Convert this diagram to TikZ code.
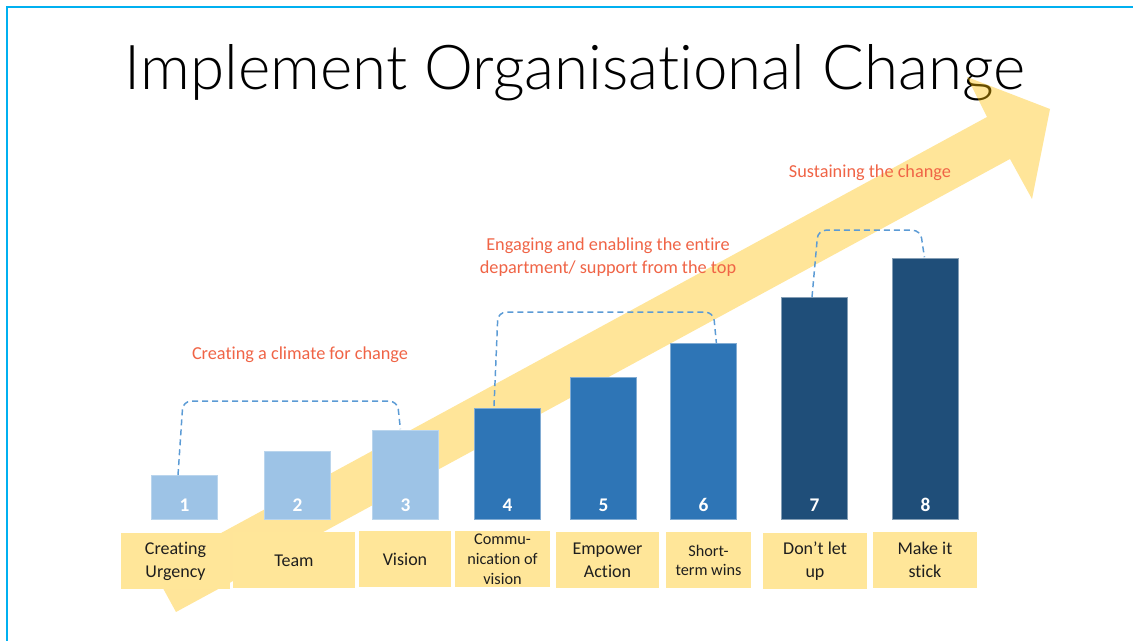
\documentclass[tikz,border=0pt]{standalone}
\usepackage{fontspec}
\setmainfont{Carlito}[Ligatures=NoCommon]
\newfontfamily\titlefont{Lato}[UprightFont={* Light}, Ligatures=NoCommon]
\usetikzlibrary{calc}
\definecolor{frameblue}{RGB}{0,176,240}
\definecolor{arrowgold}{RGB}{255,192,0}
\definecolor{lblyellow}{RGB}{255,230,153}
\definecolor{lightbar}{RGB}{157,195,230}
\definecolor{midbar}{RGB}{46,117,182}
\definecolor{darkbar}{RGB}{31,78,121}
\definecolor{redtxt}{RGB}{240,100,70}
\definecolor{dashblue}{RGB}{91,155,213}
\definecolor{txtdark}{RGB}{30,30,30}
\tikzset{
  barbox/.style={rectangle, inner sep=0pt, minimum width=49.5pt, anchor=south west, line width=0.6pt},
  lightb/.style={barbox, fill=lightbar, draw=lightbar!70!white},
  midb/.style={barbox, fill=midbar, draw=midbar!60!white},
  darkb/.style={barbox, fill=darkbar, draw=darkbar!55!white},
  numtext/.style={text=white, font=\bfseries\fontsize{14.5}{16}\selectfont, inner sep=0pt},
  lbl/.style={rectangle, fill=lblyellow, inner sep=0pt, minimum height=42pt, align=center, text=txtdark, font=\fontsize{13.5}{17.25}\selectfont},
  lblsmall/.style={lbl, font=\fontsize{12.2}{14.8}\selectfont},
  phase/.style={text=redtxt, align=center, inner sep=0pt, font=\fontsize{13.7}{17.25}\selectfont},
  brk/.style={draw=dashblue, line width=1.1pt, dash pattern=on 4.5pt off 3pt, rounded corners=6pt},
}
\begin{document}
\begin{tikzpicture}[x=0.75pt,y=-0.75pt]
\useasboundingbox (0,0) rectangle (1133,641);
\fill[white] (0,0) rectangle (1133,641);
\draw[frameblue, line width=1.5pt] (7,641) -- (7,7) -- (1133,7);
% title
\node[anchor=base, inner sep=0pt, font=\titlefont\fontsize{46.4}{56}\selectfont] (title) at (575,90) {Implement Organisational Change};
% big arrow
\fill[arrowgold, fill opacity=0.4] (176,612) -- (1010,159) -- (1032,199) -- (1050,109) -- (967,77) -- (987,117) -- (153,570) -- cycle;
% bars
\node[lightb, minimum height=33pt] (b1) at (151,520) {};
\node[lightb, minimum height=51pt] (b2) at (264,520) {};
\node[lightb, minimum height=66.75pt] (b3) at (372,520) {};
\node[midb, minimum height=83.25pt] (b4) at (474,520) {};
\node[midb, minimum height=106.5pt] (b5) at (570,520) {};
\node[midb, minimum height=132pt] (b6) at (670,520) {};
\node[darkb, minimum height=166.5pt] (b7) at (781,520) {};
\node[darkb, minimum height=195.75pt] (b8) at (892,520) {};
\foreach \i in {1,...,8} {
  \node[numtext] (n\i) at ($(b\i.south)+(0,-15)$) {\i};
}
% labels
\node[lbl, minimum width=81.75pt] (l1) at (175.5,561) {Creating\\Urgency};
\node[lbl, minimum width=91.5pt] (l2) at (294,560.5) {Team};
\node[lbl, minimum width=69pt] (l3) at (405,559.5) {Vision};
\node[lblsmall, minimum width=71.25pt] (l4) at (502.5,559.5) {Commu-\\nication of\\vision};
\node[lbl, minimum width=77.25pt] (l5) at (607.5,560) {Empower\\Action};
\node[lblsmall, minimum width=63.75pt] (l6) at (708.5,560.5) {Short-\\term wins};
\node[lbl, minimum width=78pt] (l7) at (815,561) {Don’t let\\up};
\node[lbl, minimum width=78pt] (l8) at (925,560) {Make it\\stick};
% phase labels
\node[phase] (p1) at (300,355) {Creating a climate for change};
\node[phase] (p2) at (608,257.5) {Engaging and enabling the entire\\department/ support from the top};
\node[phase] (p3) at (870,173) {Sustaining the change};
% brackets
\draw[brk] ($(b1.north west)+(27,0)$) -- ($(b1.north west)+(32,-74)$) -- ($(b3.north)+(-8,-29)$) -- ($(b3.north)+(-5,-1)$);
\draw[brk] ($(b4.north west)+(20,-2)$) -- ($(b4.north west)+(24,-96)$) -- ($(b6.north)+(10,-31)$) -- ($(b6.north)+(13,0)$);
\draw[brk] ($(b7.north west)+(31,0)$) -- ($(b7.north west)+(37,-67)$) -- ($(b8.north)+(-5,-28)$) -- ($(b8.north)+(-1,-1)$);
\end{tikzpicture}
\end{document}
